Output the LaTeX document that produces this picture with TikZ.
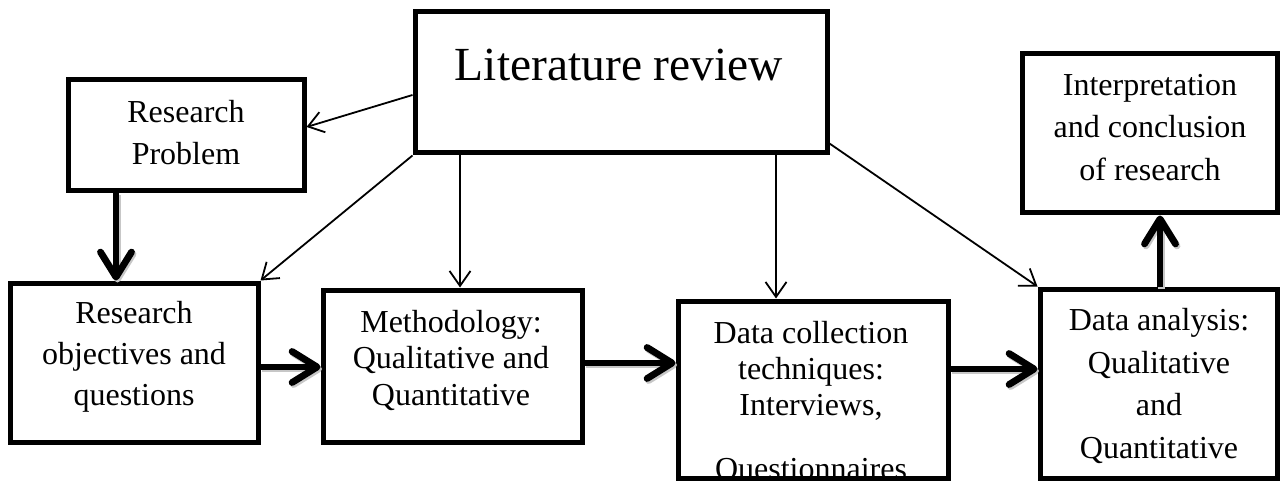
\documentclass[tikz,border=0pt]{standalone}
\usepackage{fontspec}
\setmainfont{Liberation Serif}
\usetikzlibrary{arrows.meta,calc}

\tikzset{
  stage/.style={draw=black, line width=5pt, fill=white, inner sep=0pt, rectangle},
  label32/.style={inner sep=0pt, align=center, anchor=north},
  thinarrow/.style={draw=black, line width=1.8pt,
    -{Straight Barb[length=15pt, width=21pt, line width=1.8pt]}},
  flowarrow/.style={draw=black, line width=6.8pt, line cap=butt,
    -{Straight Barb[length=25pt, width=31pt, line width=6.8pt, round]}},
  flowshadow/.style={flowarrow, draw=black!22, transform canvas={shift={(1.5pt,-2pt)}}}
}

\begin{document}
\begin{tikzpicture}[x=1pt, y=-1pt]
  \path[use as bounding box, fill=white] (0,0) rectangle (1280,481);

  % boxes (centres and sizes)
  \node[stage, minimum width=412pt, minimum height=141pt] (lit)    at (621,82.5)   {};
  \node[stage, minimum width=236pt, minimum height=111pt] (rp)     at (186,135.5)  {};
  \node[stage, minimum width=255pt, minimum height=159pt] (interp) at (1149.5,133.5) {};
  \node[stage, minimum width=248pt, minimum height=159pt] (ro)     at (134,362.5)  {};
  \node[stage, minimum width=259pt, minimum height=152pt] (meth)   at (452.5,366)  {};
  \node[stage, minimum width=237pt, minimum height=189pt] (da)     at (1158.5,383.5) {};

  % data collection: its last line is cut off by the box border
  \node[stage, minimum width=270pt, minimum height=177pt] (dc)     at (813,389.5)  {};
  \begin{scope}
    \clip ($(dc.south west)+(5,-5)$) rectangle ($(dc.north east)+(-5,5)$);
    \node[label32, font={\fontsize{32}{36}\selectfont}] (dc-t) at (811,321)
      {Data collection\\techniques:\\Interviews,\\[28pt]Questionnaires};
  \end{scope}
  \draw[line width=5pt] ($(dc.south west)+(2.5,-2.5)$) rectangle ($(dc.north east)+(-2.5,2.5)$);

  % texts
  \node[inner sep=0pt, anchor=base, font={\fontsize{47.5}{55}\selectfont}] (lit-t) at (619,81)
    {Literature review};
  \node[label32, font={\fontsize{32}{42}\selectfont}] (rp-t) at (186,100)
    {Research\\Problem};
  \node[label32, font={\fontsize{32}{42.5}\selectfont}] (interp-t) at (1150,74)
    {Interpretation\\and conclusion\\of research};
  \node[label32, font={\fontsize{32}{41}\selectfont}] (ro-t) at (134,301)
    {Research\\objectives and\\questions};
  \node[label32, font={\fontsize{32}{36.5}\selectfont}] (meth-t) at (451,310)
    {Methodology:\\Qualitative and\\Quantitative};
  \node[label32, font={\fontsize{32}{42.7}\selectfont}] (da-t) at (1159,308)
    {Data analysis:\\Qualitative\\and\\Quantitative};

  % thin links from the literature review
  \draw[thinarrow] ($(lit.west)+(0,12.5)$) -- ($(rp.east)+(0,-8.5)$);
  \draw[thinarrow] (lit.south west) -- (ro.north east);
  \coordinate (m1) at ($(meth.north)+(7.5,0)$);
  \draw[thinarrow] (m1 |- lit.south) -- (m1);
  \coordinate (d1) at ($(dc.north)+(-37,0)$);
  \draw[thinarrow] (d1 |- lit.south) -- (d1);
  \draw[thinarrow] ($(lit.south east)+(0,-12)$) -- (da.north west);

  % main flow
  \coordinate (r1) at ($(rp.south)+(-70,0)$);
  \coordinate (a2) at ($(ro.east)+(0,4.5)$);
  \coordinate (a3) at ($(meth.east)+(0,-3)$);
  \coordinate (a4) at ($(dc.east)+(0,-20.5)$);
  \coordinate (a5) at ($(da.north)+(1.5,0)$);
  \foreach \sty in {flowshadow, flowarrow} {
    \draw[\sty] (r1) -- (r1 |- ro.north);
    \draw[\sty] (a2) -- (a2 -| meth.west);
    \draw[\sty] (a3) -- (a3 -| dc.west);
    \draw[\sty] (a4) -- (a4 -| da.west);
    \draw[\sty] (a5) -- (a5 |- interp.south);
  }
\end{tikzpicture}
\end{document}
